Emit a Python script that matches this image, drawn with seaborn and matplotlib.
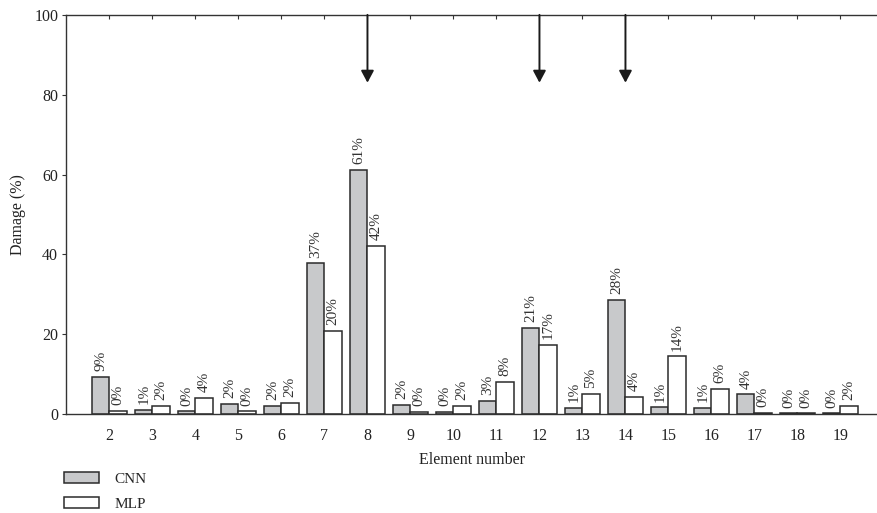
import matplotlib
matplotlib.use("Agg")
import matplotlib.pyplot as plt
import seaborn as sns
import pandas as pd
from matplotlib.patches import Patch

sns.set_theme(style="white")
plt.rcParams["font.family"] = ["Liberation Serif", "DejaVu Serif"]

elements = ["2", "3", "4", "5", "6", "7", "8", "9", "10", "11",
            "12", "13", "14", "15", "16", "17", "18", "19"]
cnn = [9.3, 1.0, 0.7, 2.5, 2.1, 37.8, 61.2, 2.3, 0.5, 3.3,
       21.6, 1.5, 28.6, 1.7, 1.6, 4.9, 0.2, 0.2]
mlp = [0.8, 2.1, 4.1, 0.7, 2.8, 20.8, 42.1, 0.5, 2.1, 8.1,
       17.3, 5.1, 4.3, 14.5, 6.3, 0.3, 0.2, 2.1]
damaged = ["8", "12", "14"]
models = ["CNN", "MLP"]
colors = {"CNN": "#c8c9cb", "MLP": "#ffffff"}

df = pd.DataFrame({
    "Element": elements * 2,
    "Damage": cnn + mlp,
    "Model": ["CNN"] * len(elements) + ["MLP"] * len(elements),
})

fig = plt.figure(figsize=(8.77, 5.13), dpi=100)
ax = fig.add_axes([0.0758, 0.193, 0.9242, 0.778])

sns.barplot(data=df, x="Element", y="Damage", hue="Model", order=elements,
            hue_order=models, palette=colors, width=0.8, edgecolor="#2b2b2b",
            linewidth=1.1, errorbar=None, legend=False, ax=ax)

# value labels above each bar
for container in ax.containers:
    vals = [b.get_height() for b in container]
    ax.bar_label(container, labels=[f"{int(v)}%" for v in vals],
                 rotation=90, padding=4, fontsize=11, color="#333333")

# arrows marking the damaged elements
for el in damaged:
    xi = elements.index(el)
    ax.annotate("", xy=(xi, 83), xytext=(xi, 100),
                arrowprops=dict(arrowstyle="-|>,head_length=0.6,head_width=0.32",
                                color="#1a1a1a", lw=1.4, shrinkA=0, shrinkB=0),
                annotation_clip=False)

ax.set_ylim(0, 100)
ax.set_xlim(-1, len(elements) - 0.15)
ax.set_yticks([0, 20, 40, 60, 80, 100])
ax.set_xlabel("Element number", fontsize=11.5, color="#222222", labelpad=6)
ax.set_ylabel("Damage (%)", fontsize=11.5, color="#222222", labelpad=6)

for side in ["left", "bottom", "top"]:
    ax.spines[side].set_visible(True)
    ax.spines[side].set_color("#333333")
    ax.spines[side].set_linewidth(1.0)
ax.spines["right"].set_visible(False)

ax.tick_params(axis="y", direction="out", length=3, width=0.8, color="#333333",
               labelsize=11.5, labelcolor="#222222", pad=3, left=True)
ax.tick_params(axis="x", which="both", bottom=False, top=True, direction="in",
               length=3, width=0.8, color="#333333", labelsize=11.5,
               labelcolor="#222222", pad=10)

handles = [Patch(facecolor=colors[m], edgecolor="#2b2b2b", linewidth=1.1) for m in models]
fig.legend(handles, models, loc="upper left", bbox_to_anchor=(0.066, 0.092),
           frameon=False, fontsize=11, handlelength=2.3, handleheight=0.75,
           labelspacing=0.72, handletextpad=1.0, borderaxespad=0)

fig.savefig("out.png", dpi=100)
